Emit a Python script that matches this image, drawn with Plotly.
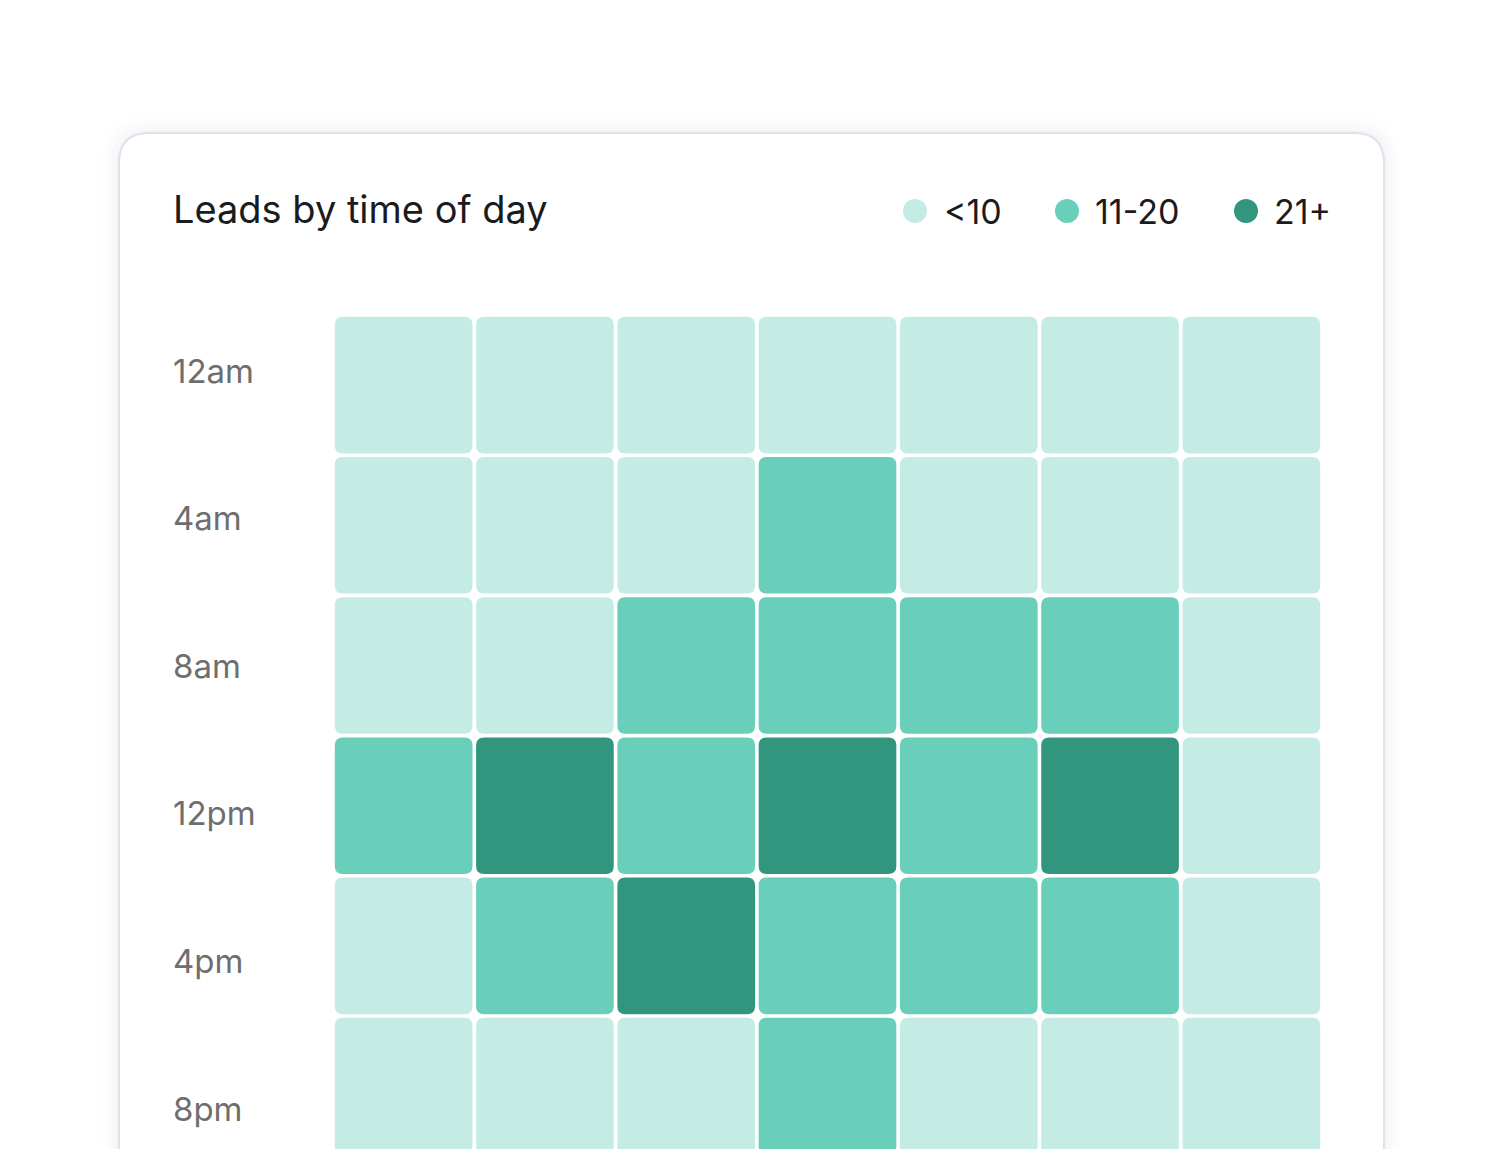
import plotly.graph_objects as go

# ---------------- data ----------------
days = ["Mon", "Tue", "Wed", "Thu", "Fri", "Sat", "Sun"]
hours = ["12am", "4am", "8am", "12pm", "4pm", "8pm"]
# estimated lead counts per (hour block, day)
leads_12am = [4, 3, 5, 6, 4, 3, 2]
leads_4am = [5, 6, 7, 13, 8, 6, 4]
leads_8am = [7, 9, 14, 16, 15, 14, 6]
leads_12pm = [17, 24, 18, 26, 19, 23, 8]
leads_4pm = [9, 16, 25, 18, 17, 15, 7]
leads_8pm = [5, 6, 8, 12, 7, 5, 4]
legend_labels = ["<10", "11-20", "21+"]
bin_edges = [10, 20]
title_text = "Leads by time of day"

# ---------------- style ----------------
W, H = 1500, 1149
OFF = 8  # page body margin in the browser
colors = ["#c5ece4", "#6acfba", "#32967f"]
FONT = "Inter, Roboto, sans-serif"

z = [leads_12am, leads_4am, leads_8am, leads_12pm, leads_4pm, leads_8pm]


def level(v):
    if v <= bin_edges[0]:
        return 0
    if v <= bin_edges[1]:
        return 1
    return 2


def px(x):
    return (x - OFF) / W


def py(y):
    return 1 - (y - OFF) / H


# layout geometry (screen pixels)
grid_left, grid_right = 333, 1322
grid_top = 315
row_pitch = 140.2
col_pitch = (grid_right - grid_left) / len(days)
rows_visible = (H + OFF - grid_top) / row_pitch
gap = 1.8  # half gap in px
rad = 8.0  # corner radius in px

label_top, label_pitch = 371, 147.6


def rounded_path_paper(x0, y0, x1, y1, r):
    pts = []
    pts.append(f"M {px(x0 + r)},{py(y0)}")
    pts.append(f"L {px(x1 - r)},{py(y0)}")
    pts.append(f"Q {px(x1)},{py(y0)} {px(x1)},{py(y0 + r)}")
    pts.append(f"L {px(x1)},{py(y1 - r)}")
    pts.append(f"Q {px(x1)},{py(y1)} {px(x1 - r)},{py(y1)}")
    pts.append(f"L {px(x0 + r)},{py(y1)}")
    pts.append(f"Q {px(x0)},{py(y1)} {px(x0)},{py(y1 - r)}")
    pts.append(f"L {px(x0)},{py(y0 + r)}")
    pts.append(f"Q {px(x0)},{py(y0)} {px(x0 + r)},{py(y0)}")
    pts.append("Z")
    return " ".join(pts)


def rounded_path_data(x0, y0, x1, y1, rx, ry):
    return (f"M {x0 + rx},{y0} L {x1 - rx},{y0} Q {x1},{y0} {x1},{y0 + ry} "
            f"L {x1},{y1 - ry} Q {x1},{y1} {x1 - rx},{y1} L {x0 + rx},{y1} "
            f"Q {x0},{y1} {x0},{y1 - ry} L {x0},{y0 + ry} Q {x0},{y0} {x0 + rx},{y0} Z")


shapes = []
# card shadow
for i, a in enumerate([0.018, 0.014, 0.010, 0.007]):
    o = 3 + i * 5
    shapes.append(dict(type="path", xref="paper", yref="paper", layer="below",
                       path=rounded_path_paper(119 - o, 133 - o, 1384 + o, 1300, 30 + o),
                       fillcolor=f"rgba(70,70,110,{a})", line=dict(width=0)))
# card
shapes.append(dict(type="path", xref="paper", yref="paper", layer="below",
                   path=rounded_path_paper(119, 133, 1384, 1300, 30),
                   fillcolor="#ffffff", line=dict(color="#e3dfec", width=2)))

# cells
gx = gap / col_pitch
gy = gap / row_pitch
rx = rad / col_pitch
ry = rad / row_pitch
for r, row in enumerate(z):
    for c, v in enumerate(row):
        x0, x1 = c - 0.5 + gx, c + 0.5 - gx
        y0, y1 = r - 0.5 + gy, r + 0.5 - gy
        shapes.append(dict(type="path", xref="x", yref="y", layer="above",
                           path=rounded_path_data(x0, y0, x1, y1, rx, ry),
                           fillcolor=colors[level(v)], line=dict(width=0)))

# legend circles
legend_cx = [915, 1067, 1246]
legend_tx = [943, 1094, 1273]
legend_y = 211
for cx, col in zip(legend_cx, colors):
    shapes.append(dict(type="circle", xref="paper", yref="paper",
                       x0=px(cx - 12), x1=px(cx + 12), y0=py(legend_y + 12), y1=py(legend_y - 12),
                       fillcolor=col, line=dict(width=0)))

annotations = [dict(text=title_text, xref="paper", yref="paper", x=px(171), y=py(209),
                    xanchor="left", yanchor="middle", showarrow=False,
                    font=dict(family=FONT, size=38, color="#1b1b1d"))]
for tx, lab in zip(legend_tx, legend_labels):
    annotations.append(dict(text=lab, xref="paper", yref="paper", x=px(tx - 1), y=py(legend_y),
                            xanchor="left", yanchor="middle", showarrow=False,
                            font=dict(family=FONT, size=34, color="#1b1b1d")))

fig = go.Figure()
fig.add_trace(go.Heatmap(z=z, x=list(range(len(days))), y=list(range(len(hours))),
                         customdata=[[d for d in days] for _ in hours],
                         text=[[h for _ in days] for h in hours],
                         hovertemplate="%{text}, %{customdata}: %{z} leads<extra></extra>",
                         opacity=0, showscale=False))
fig.add_trace(go.Scatter(x=[0], y=[0], xaxis="x", yaxis="y2", mode="markers",
                         marker=dict(opacity=0), hoverinfo="skip", showlegend=False))

y2_top = -(label_top - grid_top) / label_pitch
y2_bottom = (H + OFF - label_top) / label_pitch

fig.update_layout(
    width=W, height=H,
    margin=dict(l=0, r=0, t=0, b=0),
    paper_bgcolor="#ffffff",
    plot_bgcolor="rgba(0,0,0,0)",
    showlegend=False,
    shapes=shapes,
    annotations=annotations,
    xaxis=dict(domain=[px(grid_left), px(grid_right)], range=[-0.5, len(days) - 0.5],
               showgrid=False, zeroline=False, showticklabels=False, ticks="",
               showline=False, fixedrange=True),
    yaxis=dict(domain=[0, py(grid_top)], range=[-0.5 + rows_visible, -0.5],
               showgrid=False, zeroline=False, showticklabels=False, ticks="",
               showline=False, fixedrange=True),
    yaxis2=dict(domain=[0, py(grid_top)], overlaying="y", anchor="free",
                position=px(172), side="right",
                range=[y2_bottom, y2_top],
                tickmode="array", tickvals=list(range(len(hours))), ticktext=hours,
                showgrid=False, zeroline=False, ticks="", showline=False,
                tickfont=dict(family=FONT, size=33, color="#6e6e6e"), fixedrange=True),
)

fig.write_html("out.html")
